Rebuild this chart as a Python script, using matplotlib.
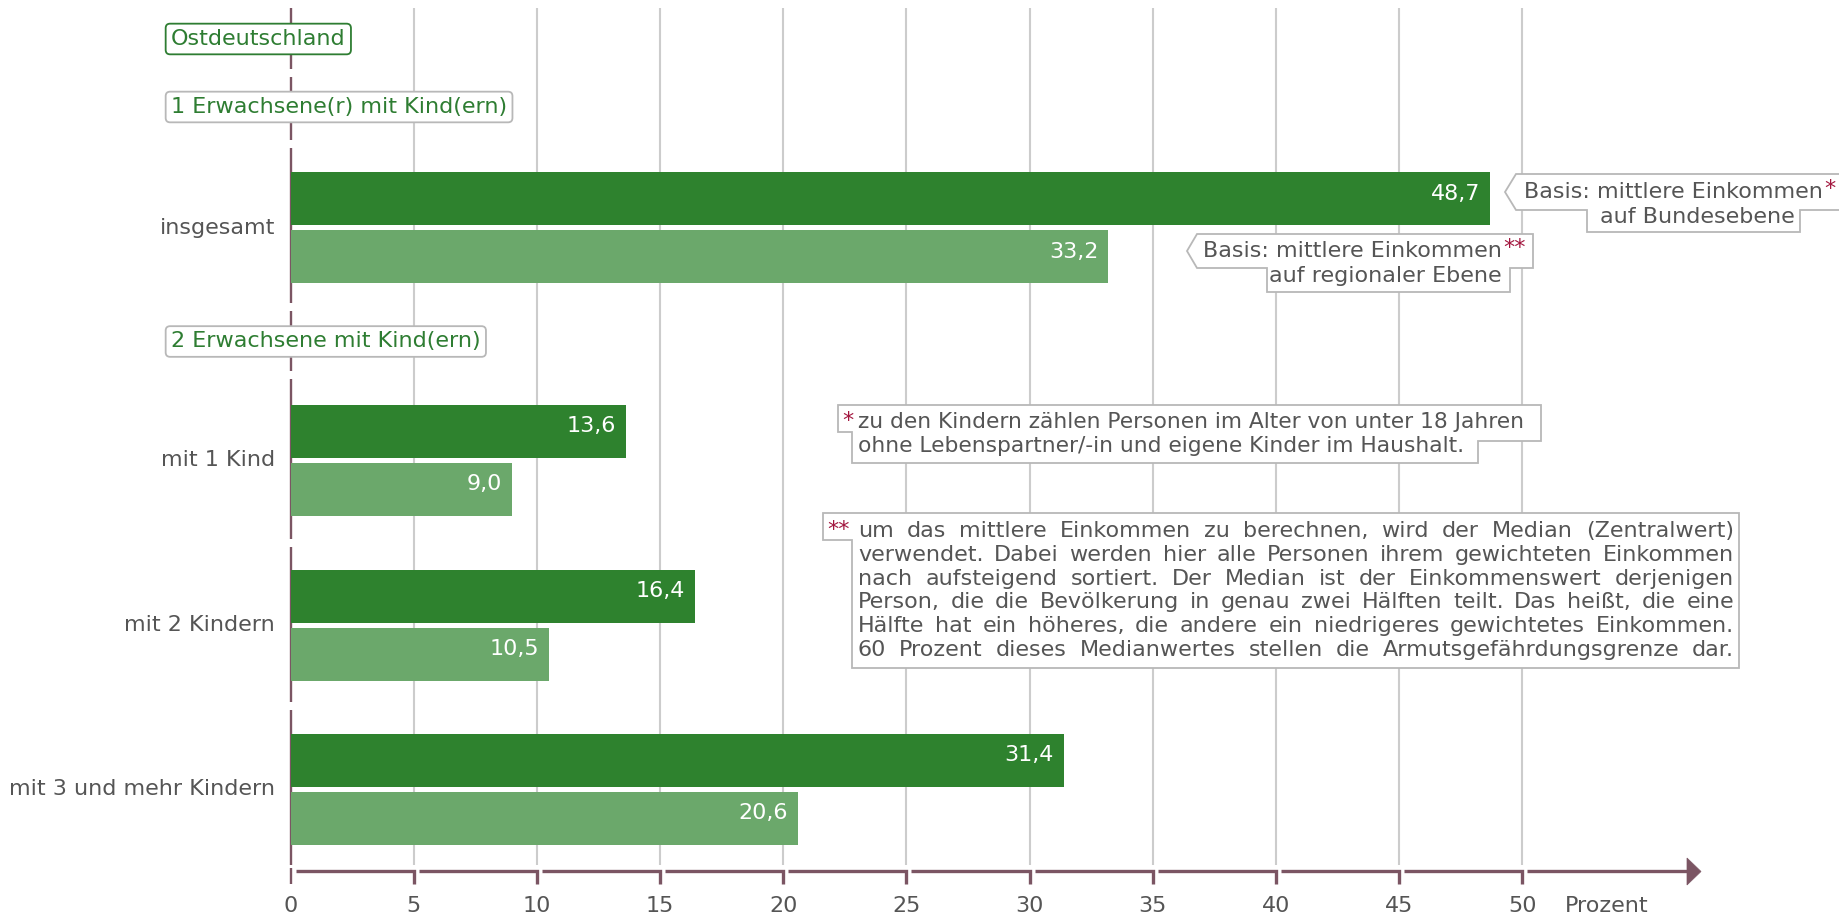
import matplotlib
matplotlib.use("Agg")
import matplotlib.pyplot as plt
import matplotlib.transforms as mtransforms
from matplotlib.patches import Polygon

W, H = 1839, 918

# data
categories = ["insgesamt", "mit 1 Kind", "mit 2 Kindern", "mit 3 und mehr Kindern"]
bund = [48.7, 13.6, 16.4, 31.4]        # Basis: mittlere Einkommen auf Bundesebene
regional = [33.2, 9.0, 10.5, 20.6]     # Basis: mittlere Einkommen auf regionaler Ebene
xticks = [0, 5, 10, 15, 20, 25, 30, 35, 40, 45, 50]
headers = ["Ostdeutschland", "1 Erwachsene(r) mit Kind(ern)", "2 Erwachsene mit Kind(ern)"]
note1 = ["zu den Kindern zählen Personen im Alter von unter 18 Jahren",
         "ohne Lebenspartner/-in und eigene Kinder im Haushalt."]
note2 = ["um das mittlere Einkommen zu berechnen, wird der Median (Zentralwert)",
         "verwendet. Dabei werden hier alle Personen ihrem gewichteten Einkommen",
         "nach aufsteigend sortiert. Der Median ist der Einkommenswert derjenigen",
         "Person, die die Bevölkerung in genau zwei Hälften teilt. Das heißt, die eine",
         "Hälfte hat ein höheres, die andere ein niedrigeres gewichtetes Einkommen.",
         "60 Prozent dieses Medianwertes stellen die Armutsgefährdungsgrenze dar."]

DARK = "#2e822e"
LIGHT = "#6ba86b"
AXIS = "#7b5563"
GRID = "#cccccc"
TXT = "#555555"
GREEN_TXT = "#2e7d32"
STAR = "#a3173f"
BOX_EC = "#b8b8b8"
FS = 16

# layout (pixels from top-left)
X0, PPU = 290.7, 24.63          # x=0 position and pixels per percent
group_y = [227.5, 460.5, 625, 789]
header_y = [39, 107, 341.5]
bar_h, off = 53, 29
axis_y = 871
axis_gaps = [72.5, 143.5, 307, 375, 543, 705.5]


def dx(px):
    return (px - X0) / PPU


fig = plt.figure(figsize=(W / 100, H / 100), dpi=100)
ax = fig.add_axes([0, 0, 1, 1])
ax.set_xlim(dx(0), dx(W))
ax.set_ylim(H, 0)
ax.axis("off")
tp = mtransforms.Affine2D().scale(1 / W, -1 / H).translate(0, 1) + fig.transFigure

# grid
ax.vlines(xticks[1:], 8, 865, color=GRID, lw=1.5, zorder=0)

# y axis with gaps between rows
stops = [8] + axis_gaps + [865]
for i in range(len(stops) - 1):
    a = stops[i] + (4 if i > 0 else 0)
    b = stops[i + 1] - (4 if i < len(stops) - 2 else 0)
    ax.plot([0, 0], [a, b], color=AXIS, lw=1.7, zorder=1, solid_capstyle="butt")

# x axis drawn as brackets
ax.plot([0, 0], [868, 884], color=AXIS, lw=1.7, solid_capstyle="butt")
for a, b in zip(xticks[:-1], xticks[1:]):
    ax.plot([a + 5 / PPU, b, b], [axis_y, axis_y, 884], color=AXIS, lw=2.4,
            solid_joinstyle="miter", solid_capstyle="butt")
ax.plot([xticks[-1] + 5 / PPU, dx(1688)], [axis_y, axis_y], color=AXIS, lw=2.4,
        solid_capstyle="butt")
ax.add_patch(Polygon([(dx(1687), 858), (dx(1701), 871.5), (dx(1687), 885)],
                     closed=True, fc=AXIS, ec=AXIS, lw=0.5))
for t in xticks:
    ax.text(t, 906, str(t), ha="center", va="center", fontsize=FS, color=TXT)
ax.text(dx(1565), 906, "Prozent", ha="left", va="center", fontsize=FS, color=TXT)

# bars
ax.barh([c - off for c in group_y], bund, height=bar_h, color=DARK, zorder=2)
ax.barh([c + off for c in group_y], regional, height=bar_h, color=LIGHT, zorder=2)
for c, v1, v2 in zip(group_y, bund, regional):
    for y, v in ((c - off, v1), (c + off, v2)):
        ax.text(v - 10 / PPU, y - 5, f"{v:.1f}".replace(".", ","), ha="right",
                va="center", fontsize=FS, color="white", zorder=3)

for c, cat in zip(group_y, categories):
    ax.text(dx(275), c, cat, ha="right", va="center", fontsize=FS, color=TXT)

# group headers
for i, (hy, h) in enumerate(zip(header_y, headers)):
    ec = GREEN_TXT if i == 0 else BOX_EC
    ax.text(dx(171), hy, h, ha="left", va="center", fontsize=FS, color=GREEN_TXT,
            zorder=5, bbox=dict(boxstyle="round,pad=0.24,rounding_size=0.2",
                                fc="white", ec=ec, lw=1.3))


def shape(points):
    ax.add_patch(Polygon(points, closed=True, transform=tp, fc="white", ec=BOX_EC,
                         lw=1.3, zorder=4, clip_on=False))


def star_after(t, s):
    ax.annotate(s, xy=(1, 1), xycoords=t, xytext=(1, 2), textcoords="offset points",
                ha="left", va="top", fontsize=FS, color=STAR, zorder=6)


# callouts on the bars
shape([(1516, 174), (1870, 174), (1870, 210), (1800, 210), (1800, 232),
       (1587, 232), (1587, 210), (1516, 210), (1505, 192)])
t = ax.text(1524, 192, "Basis: mittlere Einkommen", transform=tp, ha="left",
            va="center", fontsize=FS, color=TXT, zorder=5)
star_after(t, "*")
ax.text(1795, 217, "auf Bundesebene", transform=tp, ha="right", va="center",
        fontsize=FS, color=TXT, zorder=5)

shape([(1197, 234), (1533, 234), (1533, 268), (1510, 268), (1510, 292),
       (1267, 292), (1267, 268), (1197, 268), (1187, 251)])
t = ax.text(1203, 251, "Basis: mittlere Einkommen", transform=tp, ha="left",
            va="center", fontsize=FS, color=TXT, zorder=5)
star_after(t, "**")
ax.text(1502, 276, "auf regionaler Ebene", transform=tp, ha="right", va="center",
        fontsize=FS, color=TXT, zorder=5)

# footnotes
shape([(838, 405), (1541, 405), (1541, 441), (1478, 441), (1478, 463),
       (852, 463), (852, 432), (838, 432)])
ax.text(842, 421, "*", transform=tp, ha="left", va="center", fontsize=FS,
        color=STAR, zorder=5)
for k, line in enumerate(note1):
    ax.text(858, 422 + 24 * k, line, transform=tp, ha="left", va="center",
            fontsize=15.7, color=TXT, zorder=5)

shape([(823, 513), (1739, 513), (1739, 668), (852, 668), (852, 540), (823, 540)])
ax.text(827, 530, "**", transform=tp, ha="left", va="center", fontsize=FS,
        color=STAR, zorder=5)

renderer = fig.canvas.get_renderer()
for k, line in enumerate(note2):
    y = 531 + 23.8 * k
    words = line.split()
    arts = [ax.text(0, y, w, transform=tp, ha="left", va="center", fontsize=FS,
                    color=TXT, zorder=5) for w in words]
    widths = [a.get_window_extent(renderer).width for a in arts]
    gap = (1734 - 858 - sum(widths)) / (len(words) - 1)
    x = 858
    for a, w in zip(arts, widths):
        a.set_x(x)
        x += w + gap

fig.savefig("out.png", dpi=100)
